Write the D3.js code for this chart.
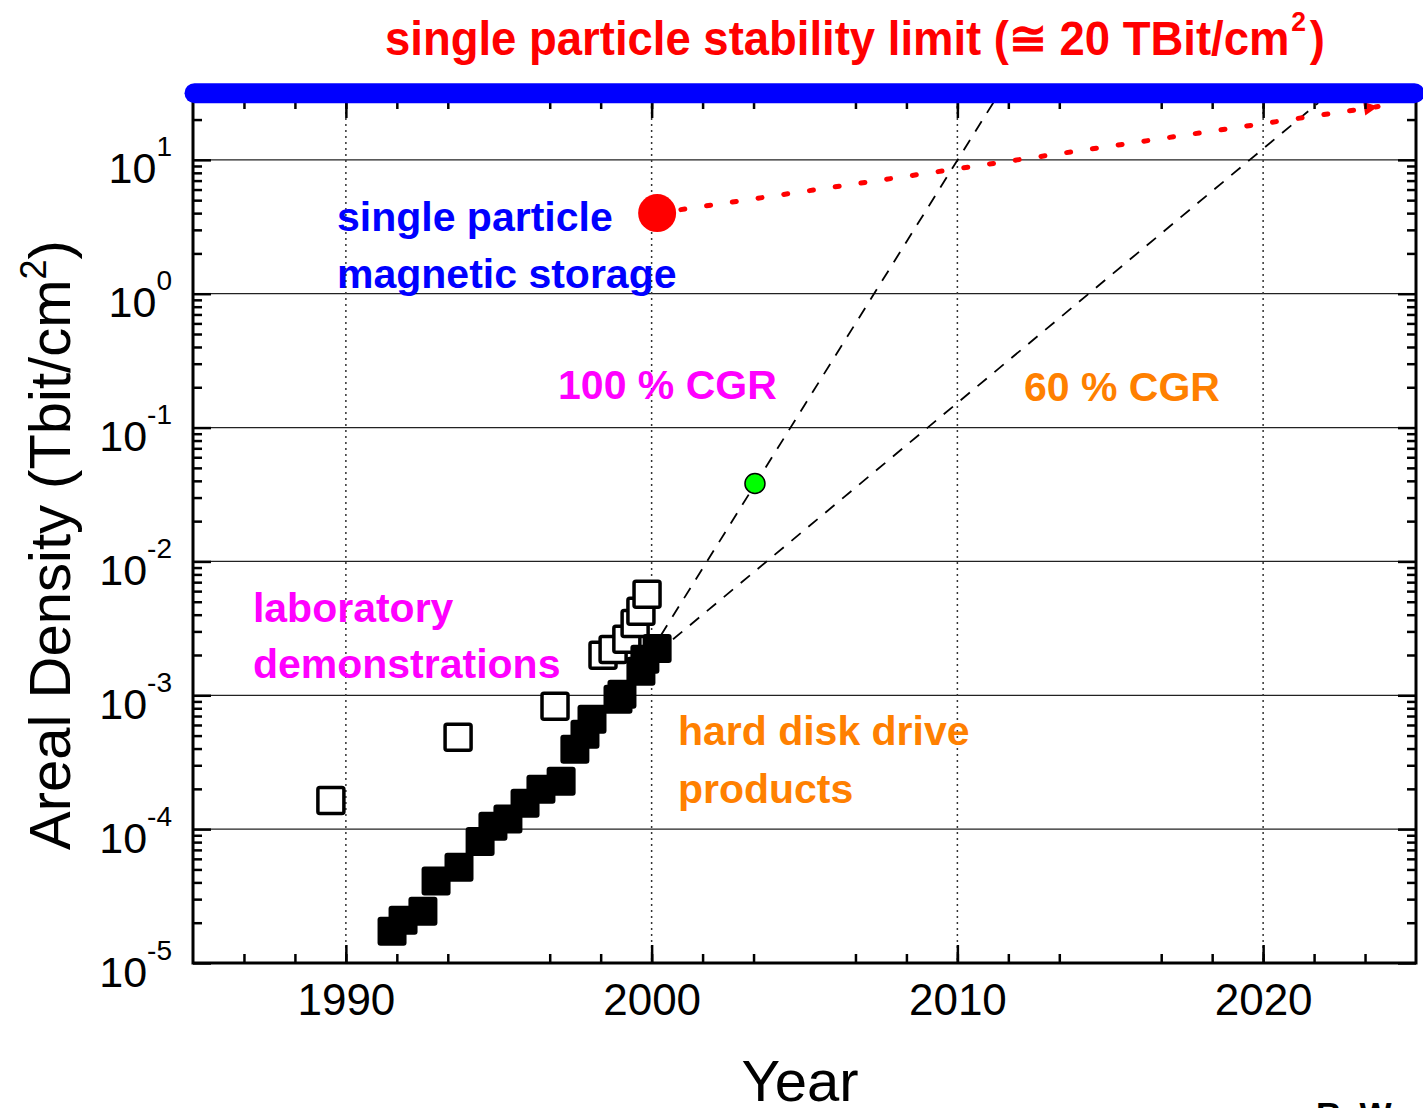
<!DOCTYPE html>
<html>
<head>
<meta charset="utf-8">
<script src="https://cdn.jsdelivr.net/npm/d3@7"></script>
<style>
body { margin: 0; background: #fff; }
svg { display: block; font-family: "Liberation Sans", Arial, sans-serif; }
</style>
</head>
<body>
<script>
// hard disk drive products (filled squares)
const hddYear = [1991.51, 1991.87, 1992.52, 1992.95, 1993.70, 1994.39, 1994.81, 1995.30, 1995.86, 1996.38,
    1997.04, 1997.49, 1997.82, 1998.05, 1998.90, 1999.03, 1999.65, 1999.78, 2000.18];
const hddDensity = [1.73e-5, 2.09e-5, 2.44e-5, 4.09e-5, 5.2e-5, 8.1e-5, 1.05e-4, 1.19e-4, 1.56e-4, 1.99e-4,
    2.28e-4, 3.95e-4, 5.12e-4, 6.62e-4, 9.33e-4, 1.02e-3, 1.51e-3, 1.86e-3, 2.24e-3];

// laboratory demonstrations (open squares)
const labYear = [1989.51, 1993.67, 1996.84, 1998.41, 1998.74, 1999.19, 1999.46, 1999.65, 1999.85];
const labDensity = [1.64e-4, 4.86e-4, 8.28e-4, 1.99e-3, 2.2e-3, 2.62e-3, 3.44e-3, 4.24e-3, 5.68e-3];

// growth-rate guide lines (start, end)
const cgr100Year = [2000.3, 2011.23];
const cgr100Density = [0.0028, 28];
const cgr60Year = [2000.7, 2021.8];
const cgr60Density = [0.00262, 26.6];

// single particle storage point and its projection
const spYear = [2000.18, 2023.76];
const spDensity = [4.0, 25.0];

// green point on the 100 % line
const greenYear = 2003.38;
const greenDensity = 0.0382;

// stability limit band
const limitYear = [1985.05, 2024.95];
const limitDensity = 31.5;

// axis ticks
const xMajor = [1990, 2000, 2010, 2020];
const xMinor = d3.range(1, 24).filter(k => k % 6 !== 0).map(k => 1985 + k * 10 / 6);
const yMajor = [1e-5, 1e-4, 1e-3, 1e-2, 1e-1, 1, 10];
const yMinor = [];
yMajor.forEach(d => { for (let m = 2; m <= 9; m++) if (m * d <= 28) yMinor.push(m * d); });

// annotations: text, year, density
const notes = [
    ["single particle", 1989.71, 2.94, "blue"],
    ["magnetic storage", 1989.71, 1.10, "blue"],
    ["100 % CGR", 1996.94, 0.163, "magenta"],
    ["60 % CGR", 2012.18, 0.158, "orange"],
    ["laboratory", 1986.96, 3.52e-3, "magenta"],
    ["demonstrations", 1986.96, 1.35e-3, "magenta"],
    ["hard disk drive", 2000.86, 4.25e-4, "orange"],
    ["products", 2000.86, 1.57e-4, "orange"],
];
const noteColor = { blue: "#0000ff", magenta: "#ff00ff", orange: "#ff8000" };

const margin = { top: 100, right: 7, bottom: 145, left: 193 };
const width = 1423 - margin.left - margin.right;
const height = 1108 - margin.top - margin.bottom;

const x = d3.scaleLinear().domain([1985, 2025]).range([0, width]);
const y = d3.scaleLog().domain([1e-5, 28]).range([height, 0]);

const svg = d3.select("body").append("svg")
    .attr("width", 1423)
    .attr("height", 1108);

svg.append("defs").append("marker")
    .attr("id", "arrow")
    .attr("viewBox", "0 0 10 10")
    .attr("refX", 10).attr("refY", 5)
    .attr("markerWidth", 28).attr("markerHeight", 14)
    .attr("markerUnits", "userSpaceOnUse")
    .attr("orient", "auto")
    .append("path")
    .attr("d", "M0,0L10,5L0,10Z")
    .attr("fill", "#ff0000");

const g = svg.append("g")
    .attr("transform", `translate(${margin.left},${margin.top})`);

// grid
g.selectAll(".hgrid").data(yMajor.slice(1)).join("line")
    .attr("x1", 0).attr("x2", width)
    .attr("y1", d => y(d)).attr("y2", d => y(d))
    .attr("stroke", "#222").attr("stroke-width", 1.2);
g.selectAll(".vgrid").data(xMajor).join("line")
    .attr("x1", d => x(d)).attr("x2", d => x(d))
    .attr("y1", 0).attr("y2", height)
    .attr("stroke", "#333").attr("stroke-width", 1.5)
    .attr("stroke-dasharray", "2,4");

// dashed CGR lines
const line = d3.line().x(d => x(d[0])).y(d => y(d[1]));
[[cgr100Year, cgr100Density], [cgr60Year, cgr60Density]].forEach(([ys, ds]) => {
    g.append("path")
        .attr("d", line(d3.zip(ys, ds)))
        .attr("fill", "none")
        .attr("stroke", "#000")
        .attr("stroke-width", 1.8)
        .attr("stroke-dasharray", "12,10");
});

// red dotted projection
g.append("path")
    .attr("d", line(d3.zip(spYear, spDensity)))
    .attr("fill", "none")
    .attr("stroke", "#ff0000")
    .attr("stroke-width", 5)
    .attr("stroke-linecap", "round")
    .attr("stroke-dasharray", "4,22")
    .attr("stroke-dashoffset", -24)
    .attr("marker-end", "url(#arrow)");

// lab demos
const labSize = 26;
g.selectAll(".lab").data(d3.zip(labYear, labDensity)).join("rect")
    .attr("x", d => x(d[0]) - labSize / 2)
    .attr("y", d => y(d[1]) - labSize / 2)
    .attr("width", labSize).attr("height", labSize)
    .attr("rx", 2)
    .attr("fill", "#fff")
    .attr("stroke", "#000")
    .attr("stroke-width", 3.5);

// hdd products
const hddSize = 29;
g.selectAll(".hdd").data(d3.zip(hddYear, hddDensity)).join("rect")
    .attr("x", d => x(d[0]) - hddSize / 2)
    .attr("y", d => y(d[1]) - hddSize / 2)
    .attr("width", hddSize).attr("height", hddSize)
    .attr("rx", 3)
    .attr("fill", "#000");

g.append("circle")
    .attr("cx", x(greenYear)).attr("cy", y(greenDensity))
    .attr("r", 10)
    .attr("fill", "#00ff00")
    .attr("stroke", "#000").attr("stroke-width", 1.5);

g.append("circle")
    .attr("cx", x(spYear[0])).attr("cy", y(spDensity[0]))
    .attr("r", 19)
    .attr("fill", "#ff0000");

// axes
function styleAxis(sel) {
    sel.select(".domain").remove();
    sel.selectAll(".tick line").attr("stroke", "#000").attr("stroke-width", 2.5);
    sel.attr("font-family", null);
}
g.append("g").attr("transform", `translate(0,${height})`)
    .call(d3.axisBottom(x).tickValues(xMinor).tickSizeInner(-9).tickSizeOuter(0).tickFormat(""))
    .call(styleAxis);
g.append("g")
    .call(d3.axisTop(x).tickValues(xMinor).tickSizeInner(-9).tickSizeOuter(0).tickFormat(""))
    .call(styleAxis);
g.append("g")
    .call(d3.axisTop(x).tickValues(xMajor).tickSizeInner(-18).tickSizeOuter(0).tickFormat(""))
    .call(styleAxis);
g.append("g").attr("transform", `translate(0,${height})`)
    .call(d3.axisBottom(x).tickValues(xMajor).tickSizeInner(-18).tickSizeOuter(0)
        .tickPadding(21).tickFormat(d3.format("d")))
    .call(styleAxis)
    .call(a => a.selectAll("text").attr("font-size", 44).attr("fill", "#000"));

g.append("g")
    .call(d3.axisLeft(y).tickValues(yMinor).tickSizeInner(-9).tickSizeOuter(0).tickFormat(""))
    .call(styleAxis);
g.append("g").attr("transform", `translate(${width},0)`)
    .call(d3.axisRight(y).tickValues(yMinor).tickSizeInner(-9).tickSizeOuter(0).tickFormat(""))
    .call(styleAxis);
g.append("g").attr("transform", `translate(${width},0)`)
    .call(d3.axisRight(y).tickValues(yMajor).tickSizeInner(-18).tickSizeOuter(0).tickFormat(""))
    .call(styleAxis);
const yAxis = g.append("g")
    .call(d3.axisLeft(y).tickValues(yMajor).tickSizeInner(-18).tickSizeOuter(0).tickFormat(""))
    .call(styleAxis);
yAxis.selectAll(".tick text").remove();
yAxis.selectAll(".tick").append("text")
    .attr("x", -21).attr("y", 23)
    .attr("text-anchor", "end")
    .attr("fill", "#000")
    .attr("font-size", 43)
    .call(t => {
        t.append("tspan").text("10");
        t.append("tspan").attr("dy", -27).attr("font-size", 28)
            .text(d => Math.round(Math.log10(d)));
    });

g.append("rect")
    .attr("width", width).attr("height", height)
    .attr("fill", "none")
    .attr("stroke", "#000")
    .attr("stroke-width", 3);

// stability limit band
g.append("line")
    .attr("x1", x(limitYear[0])).attr("x2", x(limitYear[1]))
    .attr("y1", y(limitDensity)).attr("y2", y(limitDensity))
    .attr("stroke", "#0000ff")
    .attr("stroke-width", 20)
    .attr("stroke-linecap", "round");

// annotations
g.selectAll(".note").data(notes).join("text")
    .attr("x", d => x(d[1]))
    .attr("y", d => y(d[2]))
    .attr("font-size", 41)
    .attr("font-weight", "bold")
    .attr("fill", d => noteColor[d[3]])
    .text(d => d[0]);

// titles
const title = svg.append("text")
    .attr("x", 385).attr("y", 55)
    .attr("font-size", 48)
    .attr("font-weight", "bold")
    .attr("fill", "#ff0000")
    .attr("textLength", 940)
    .attr("lengthAdjust", "spacingAndGlyphs");
title.append("tspan").text("single particle stability limit (\u2245 20 TBit/cm");
title.append("tspan").attr("dy", -24).attr("dx", 2).attr("font-size", 28).text("2");
title.append("tspan").attr("dy", 24).attr("dx", 4).text(")");

const yTitle = svg.append("text")
    .attr("transform", "translate(70,545) rotate(-90)")
    .attr("text-anchor", "middle")
    .attr("font-size", 58)
    .attr("fill", "#000");
yTitle.append("tspan").text("Areal Density (Tbit/cm");
yTitle.append("tspan").attr("dy", -24).attr("font-size", 36).text("2");
yTitle.append("tspan").attr("dy", 24).text(")");

svg.append("text")
    .attr("x", 800).attr("y", 1101)
    .attr("text-anchor", "middle")
    .attr("font-size", 58)
    .attr("fill", "#000")
    .text("Year");

svg.append("text")
    .attr("x", 1316).attr("y", 1126)
    .attr("font-size", 34)
    .attr("font-weight", "bold")
    .attr("fill", "#000")
    .text("R. W.");
</script>
</body>
</html>
